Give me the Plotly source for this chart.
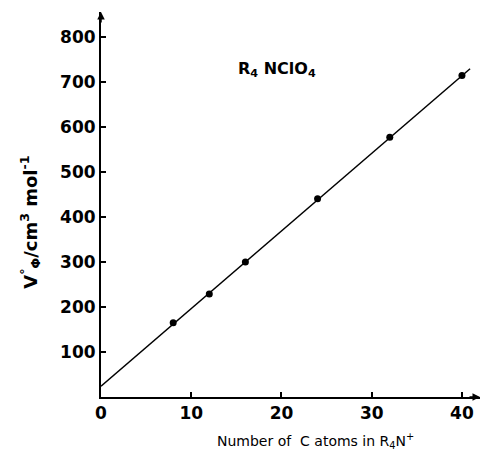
import plotly.graph_objects as go

# Measured points: carbon count in the cation vs. apparent molar volume
carbon_atoms = [8, 12, 16, 24, 32, 40]
molar_volume = [165, 229, 300, 440, 577, 714]

# Straight-line fit drawn through the points
fit_x = [0, 40.9]
fit_y = [24, 729]

x_ticks = [0, 10, 20, 30, 40]
y_ticks = [100, 200, 300, 400, 500, 600, 700, 800]

font_main = "DejaVu Sans"

fig = go.Figure()
fig.add_trace(go.Scatter(
    x=fit_x, y=fit_y, mode="lines",
    line=dict(color="black", width=1.5), showlegend=False, hoverinfo="skip",
))
fig.add_trace(go.Scatter(
    x=carbon_atoms, y=molar_volume, mode="markers",
    marker=dict(color="black", size=7), showlegend=False,
))

axis_common = dict(
    showgrid=False, zeroline=False, showline=True, linecolor="black", linewidth=2,
    ticks="inside", ticklen=5, tickwidth=1.5, tickcolor="black",
    tickfont=dict(family=font_main, size=17, color="black", weight="bold"),
)

fig.update_layout(
    width=483, height=453,
    margin=dict(l=101, r=3, t=12, b=56),
    paper_bgcolor="white", plot_bgcolor="white",
    xaxis=dict(range=[0, 42], tickvals=x_ticks, ticktext=[str(v) for v in x_ticks],
               **axis_common),
    yaxis=dict(range=[0, 855], tickvals=y_ticks, ticktext=[str(v) for v in y_ticks],
               **axis_common),
    annotations=[
        dict(text="R<sub>4</sub> NClO<sub>4</sub>", x=0.465, y=0.883, xref="paper", yref="paper",
             showarrow=False, font=dict(family=font_main, size=16, color="black", weight="bold")),
        dict(text="Number of  C atoms in R<sub>4</sub>N<sup>+</sup>", x=0.567, y=-0.114,
             xref="paper", yref="paper", xanchor="center", yanchor="middle", showarrow=False,
             font=dict(family=font_main, size=14, color="black")),
        dict(text="V<sup>°</sup><sub>Φ</sub>/cm<sup>3</sup> mol<sup>-1</sup>", x=-0.227, y=0.455,
             xref="paper", yref="paper", textangle=-90, showarrow=False,
             font=dict(family=font_main, size=18, color="black", weight="bold")),
        # axis arrowheads
        dict(x=1.0, y=0, xref="paper", yref="paper", ax=-12, ay=0, text="",
             showarrow=True, arrowhead=2, arrowsize=1, arrowwidth=1.5, arrowcolor="black"),
        dict(x=0, y=1.0, xref="paper", yref="paper", ax=0, ay=12, text="",
             showarrow=True, arrowhead=2, arrowsize=1, arrowwidth=1.5, arrowcolor="black"),
    ],
)

fig.write_html("out.html")
